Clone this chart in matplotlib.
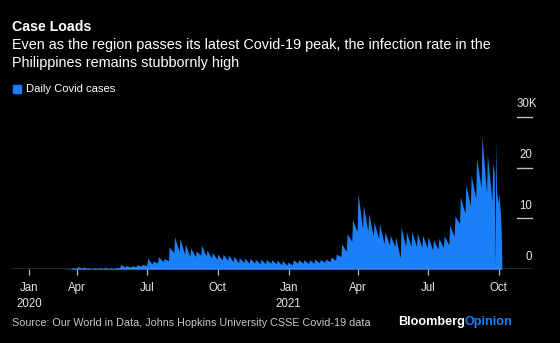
#!/usr/bin/env python3
"""
Daily Covid-19 cases in the Philippines, Jan 2020 - Oct 2021.
"""

import matplotlib

matplotlib.use("Agg")
import matplotlib.pyplot as plt
import pandas as pd

# weekly low / high of reported daily cases (thousands); each week starts on
# its low day and jumps to the high the day after
week_start = "2020-01-29"
week_low = [
    0, 0, 0, 0, 0, 0, 0, 0.03, 0.07, 0.2,
    0.2, 0.2, 0.1, 0.15, 0.15, 0.15, 0.15, 0.3, 0.4, 0.4,
    0.5, 0.6, 0.7, 1.0, 1.3, 1.5, 1.7, 3.3, 3.5, 3.0,
    2.5, 2.5, 2.8, 2.6, 2.2, 2.0, 1.8, 1.8, 1.5, 1.3,
    1.3, 1.2, 1.2, 1.1, 1.1, 1.2, 1.1, 0.9, 0.8, 0.9,
    1.2, 1.2, 1.1, 1.2, 1.3, 1.4, 1.5, 1.8, 2.5, 3.5,
    5.5, 7.5, 8.0, 7.5, 6.5, 6.0, 5.0, 4.8, 4.5, 2.2,
    4.5, 4.5, 4.5, 4.3, 4.2, 3.8, 4.0, 4.3, 4.8, 6.5,
    9.0, 11.0, 12.5, 14.0, 16.0, 15.0, 13.5,
]
week_high = [
    0, 0, 0, 0, 0, 0, 0.02, 0.08, 0.3, 0.55,
    0.45, 0.3, 0.3, 0.3, 0.35, 0.3, 0.3, 1.0, 0.75, 0.7,
    0.9, 1.0, 2.2, 1.6, 2.5, 2.1, 4.4, 6.4, 6.0, 5.0,
    4.2, 3.6, 4.8, 3.8, 3.3, 3.0, 3.0, 2.8, 2.6, 2.3,
    2.2, 2.2, 2.0, 2.0, 1.9, 1.9, 1.8, 1.7, 1.4, 1.9,
    1.9, 1.9, 1.9, 2.0, 1.9, 2.0, 2.4, 3.0, 5.0, 7.0,
    9.7, 15.0, 12.6, 11.0, 9.3, 9.0, 7.4, 6.7, 6.4, 8.4,
    7.4, 7.4, 7.1, 6.7, 6.4, 5.8, 6.1, 6.6, 8.7, 10.5,
    14.2, 16.7, 18.5, 22.0, 26.3, 22.7, 20.8,
]

# last days of the series, reported day by day
tail_dates = ["2021-09-25", "2021-09-26", "2021-09-27", "2021-09-28",
              "2021-09-30", "2021-10-01", "2021-10-03", "2021-10-04", "2021-10-05"]
tail_cases = [19.0, 0.6, 25.7, 15.5, 13.0, 14.9, 11.0, 8.0, 0.0]

tick_dates = ["2020-01-30", "2020-04-01", "2020-07-01", "2020-10-01",
              "2021-01-01", "2021-04-01", "2021-07-01", "2021-10-01"]
tick_labels = ["Jan\n2020", "Apr", "Jul", "Oct", "Jan\n2021", "Apr", "Jul", "Oct"]
y_ticks = [0, 10, 20, 30]

BLUE = "#1b7ff7"
BG = "#000000"
GRID = "#bdbdbd"
FONT = ["Liberation Sans", "DejaVu Sans"]

W, H = 560, 343


def fx(x):
    return x / W


def fy(y):
    return 1 - y / H


def main():
    plt.rcParams["font.family"] = FONT

    starts = pd.date_range(week_start, periods=len(week_low), freq="7D")
    xs, ys = [], []
    for d, lo, hi in zip(starts, week_low, week_high):
        xs += [d, d + pd.Timedelta(days=1)]
        ys += [lo * 1000, hi * 1000]
    xs += list(pd.to_datetime(tail_dates))
    ys += [v * 1000 for v in tail_cases]

    fig = plt.figure(figsize=(W / 100, H / 100), dpi=100, facecolor=BG)
    ax = fig.add_axes([fx(12), fy(269.3), fx(520), (269.3 - 116.7) / H])
    ax.set_facecolor(BG)

    ax.fill_between(xs, ys, 0, color=BLUE, linewidth=0)

    ax.set_xlim(pd.Timestamp("2020-01-08"), pd.Timestamp("2021-11-13"))
    ax.set_ylim(0, 30000)

    for s in ax.spines.values():
        s.set_visible(False)
    ax.axhline(0, color=GRID, linewidth=1.0, zorder=3)

    ax.set_xticks(pd.to_datetime(tick_dates))
    ax.set_xticklabels(tick_labels, color="#e6e6e6", fontsize=8.3, linespacing=1.45)
    ax.tick_params(axis="x", length=4, width=0.9, color=GRID, pad=5)
    for lab in ax.get_xticklabels():
        lab.set_horizontalalignment("center")
        lab.set_verticalalignment("top")
    ax.set_yticks([])

    # right-hand value scale: short rules with labels sitting above them
    tr = ax.get_yaxis_transform()
    for v in y_ticks:
        if v > 0:
            ax.plot([0.9706, 1.0], [v * 1000, v * 1000], color=GRID,
                    linewidth=1.0, transform=tr, clip_on=False)
        y_px = 269.3 - v * 5.087 - 12.5
        if v == y_ticks[-1]:
            fig.text(fx(517), fy(y_px), f"{v}K", color="#e6e6e6",
                     fontsize=8.3, ha="left", va="center")
        else:
            fig.text(fx(532), fy(y_px), f"{v}", color="#e6e6e6",
                     fontsize=8.3, ha="right", va="center")

    fig.text(fx(12), fy(27), "Case Loads", color="white", fontsize=10.2,
             fontweight="bold", va="center")
    fig.text(fx(12), fy(45),
             "Even as the region passes its latest Covid-19 peak, the infection rate in the",
             color="white", fontsize=10.35, va="center")
    fig.text(fx(12), fy(63), "Philippines remains stubbornly high",
             color="white", fontsize=10.35, va="center")

    fig.patches.append(plt.Rectangle((fx(13), fy(93)), fx(8), 8 / H,
                                     color=BLUE, transform=fig.transFigure))
    fig.text(fx(25.5), fy(89), "Daily Covid cases", color="white",
             fontsize=8.1, va="center")

    fig.text(fx(11.5), fy(322.5),
             "Source: Our World in Data, Johns Hopkins University CSSE Covid-19 data",
             color="#c8c8c8", fontsize=7.75, va="center")
    t = fig.text(fx(398), fy(322.5), "Bloomberg", color="white", fontsize=9.1,
                 fontweight="bold", va="center")
    fig.canvas.draw()
    bb = t.get_window_extent()
    fig.text(bb.x1 / W, fy(322.5), "Opinion", color=BLUE, fontsize=9.1,
             fontweight="bold", va="center")

    fig.savefig("out.png", dpi=100, facecolor=BG)
    plt.close(fig)
    return 0


if __name__ == "__main__":
    raise SystemExit(main())
